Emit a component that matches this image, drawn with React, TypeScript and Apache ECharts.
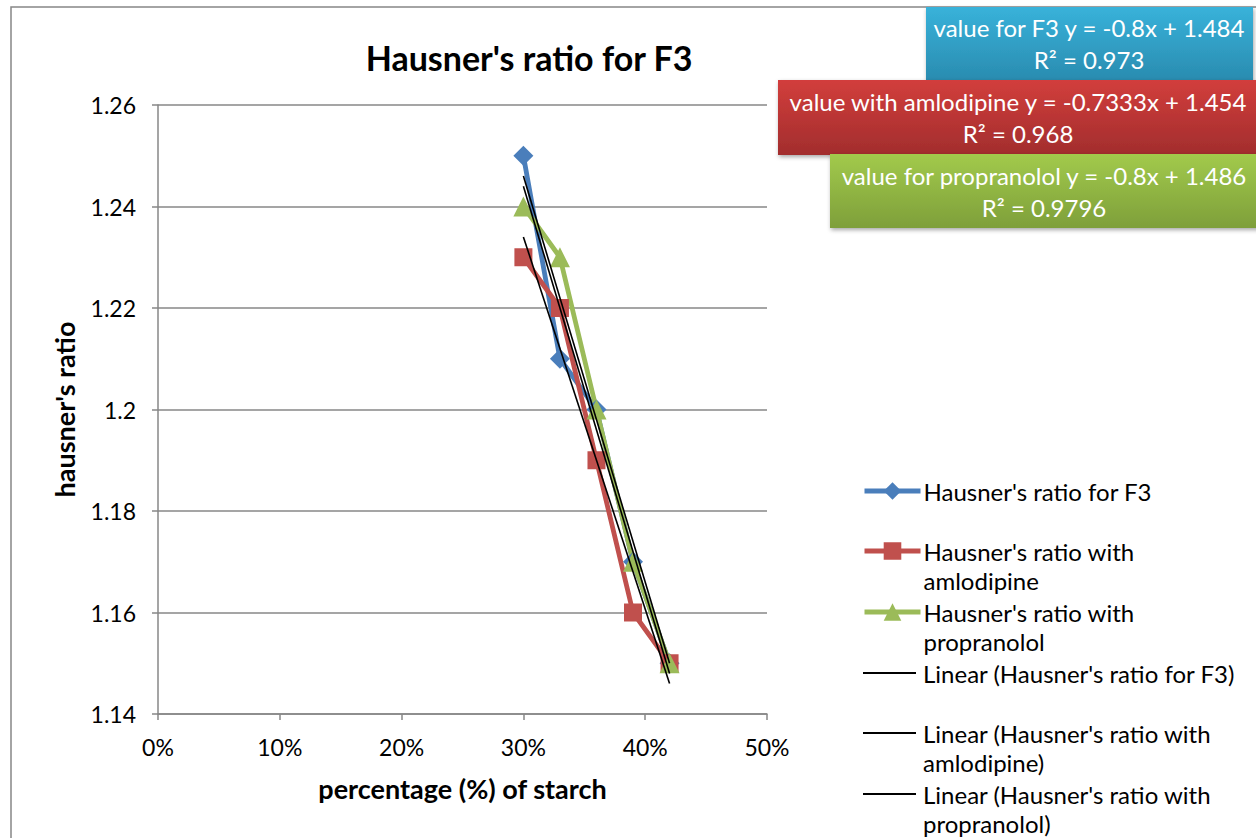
import React, { useEffect, useRef } from "react";
import * as echarts from "echarts";

// ---- data ----
const starchPct = [0.3, 0.33, 0.36, 0.39, 0.42];
const ratioF3 = [1.25, 1.21, 1.2, 1.17, 1.15];
const ratioAmlodipine = [1.23, 1.22, 1.19, 1.16, 1.15];
const ratioPropranolol = [1.24, 1.23, 1.2, 1.17, 1.15];
const seriesNames = [
  "Hausner's ratio for F3",
  "Hausner's ratio with amlodipine",
  "Hausner's ratio with propranolol",
];
const legendLines = [
  ["Hausner's ratio for F3"],
  ["Hausner's ratio with", "amlodipine"],
  ["Hausner's ratio with", "propranolol"],
  ["Linear (Hausner's ratio for F3)"],
  ["Linear (Hausner's ratio with", "amlodipine)"],
  ["Linear (Hausner's ratio with", "propranolol)"],
];
const trendSlopes = [-0.8, -0.7333, -0.8];
const trendIntercepts = [1.484, 1.454, 1.486];
const trendR2 = ["0.973", "0.968", "0.9796"];
const trendLabelPrefix = ["value for F3", "value with amlodipine", "value for propranolol"];
const chartTitle = "Hausner's ratio for F3";
const xAxisTitle = "percentage (%) of starch";
const yAxisTitle = "hausner's ratio";

const FONT = "Lato, 'Open Sans', 'DejaVu Sans', sans-serif";
const COLORS = ["#4A7EBB", "#C0504D", "#9BBB59"];
const SYMBOLS = ["diamond", "rect", "triangle"];
const SYMBOL_SIZES = [20, 18, 20];

export default function App() {
  const ref = useRef<HTMLDivElement>(null);
  useEffect(() => {
    const chart = echarts.init(ref.current!, undefined, { renderer: "svg" });
    const valueSets = [ratioF3, ratioAmlodipine, ratioPropranolol];
    const xMin = Math.min(...starchPct);
    const xMax = Math.max(...starchPct);

    const dataSeries = valueSets.map((vals, i) => ({
      name: seriesNames[i],
      type: "line",
      data: starchPct.map((x, j) => [x, vals[j]]),
      symbol: SYMBOLS[i],
      symbolSize: SYMBOL_SIZES[i],
      itemStyle: { color: COLORS[i] },
      lineStyle: { color: COLORS[i], width: 4.8 },
      z: 2,
    }));
    const trendSeries = trendSlopes.map((m, i) => ({
      name: "Linear (" + seriesNames[i] + ")",
      type: "line",
      data: [
        [xMin, m * xMin + trendIntercepts[i]],
        [xMax, m * xMax + trendIntercepts[i]],
      ],
      symbol: "none",
      itemStyle: { color: "#000" },
      lineStyle: { color: "#000", width: 1.6 },
      z: 3,
    }));

    const allNames = [...seriesNames, ...trendSeries.map((s) => s.name)];
    const firstLineCenters = [491, 551, 612, 673, 733, 794];
    const legends = allNames.map((name, i) => {
      const lines = legendLines[i];
      const twoLine = lines.length > 1;
      const isTrend = i >= 3;
      // for two-line items, a blank leading line keeps the icon level with the first line
      const text = twoLine ? "\n" + lines.join("\n") : lines[0];
      return {
        left: isTrend ? 863 : 862,
        top: firstLineCenters[i] - (twoLine ? 43.5 : 14.5),
        orient: "vertical",
        padding: 0,
        itemWidth: isTrend ? 53 : 56,
        itemHeight: isTrend ? 2 : 22,
        icon: isTrend ? "rect" : undefined,
        lineStyle: isTrend ? undefined : { width: 5 },
        selectedMode: false,
        data: [name],
        formatter: () => text,
        itemGap: 0,
        textStyle: {
          fontSize: 24,
          fontFamily: FONT,
          color: "#000",
          lineHeight: 29,
          padding: isTrend ? [0, 0, 0, 2] : [0, 0, 0, -2],
        },
      };
    });

    const boxes = [
      { x: 926, y: 7, w: 327, h: 73, c1: "#38B2DA", c2: "#2A8CB0", cx: 1089 },
      { x: 778, y: 80, w: 490, h: 75, c1: "#D23E3C", c2: "#A22D2D", cx: 1018 },
      { x: 830, y: 154, w: 440, h: 74, c1: "#A2CA4C", c2: "#7E9F3A", cx: 1044 },
    ];
    const boxGraphics = boxes.map((b, i) => ({
      type: "group",
      children: [
        {
          type: "rect",
          shape: { x: b.x, y: b.y, width: b.w, height: b.h },
          style: {
            fill: new echarts.graphic.LinearGradient(0, 0, 0, 1, [
              { offset: 0, color: b.c1 },
              { offset: 1, color: b.c2 },
            ]),
            shadowBlur: 4,
            shadowOffsetX: 1,
            shadowOffsetY: 2,
            shadowColor: "rgba(0,0,0,0.35)",
          },
        },
        {
          type: "text",
          x: b.cx,
          y: b.y + b.h / 2,
          style: {
            text:
              trendLabelPrefix[i] +
              " y = " +
              trendSlopes[i] +
              "x + " +
              trendIntercepts[i] +
              "\nR² = " +
              trendR2[i],
            fill: "#fff",
            fontSize: 24,
            fontFamily: FONT,
            lineHeight: 32,
            align: "center",
            verticalAlign: "middle",
          },
        },
      ],
    }));

    chart.setOption({
      animation: false,
      backgroundColor: "#fff",
      title: {
        text: chartTitle,
        left: 524,
        top: 35,
        textAlign: "center",
        textStyle: { fontFamily: FONT, fontSize: 34, fontWeight: "bold", color: "#000" },
      },
      legend: legends,
      grid: { left: 158, top: 105, width: 609, height: 609, containLabel: false },
      xAxis: {
        type: "value",
        min: 0,
        max: 0.5,
        interval: 0.1,
        name: xAxisTitle,
        nameLocation: "middle",
        nameGap: 61,
        nameTextStyle: { fontFamily: FONT, fontSize: 27, fontWeight: "bold", color: "#000" },
        axisLine: { show: true, lineStyle: { color: "#878787", width: 1.5 } },
        axisTick: { show: true, length: 6, lineStyle: { color: "#878787", width: 1.5 } },
        axisLabel: {
          margin: 21,
          fontFamily: FONT,
          fontSize: 23,
          color: "#000",
          formatter: (v: number) => Math.round(v * 100) + "%",
        },
        splitLine: { show: false },
      },
      yAxis: {
        type: "value",
        min: 1.14,
        max: 1.26,
        interval: 0.02,
        name: yAxisTitle,
        nameLocation: "middle",
        nameGap: 80,
        nameTextStyle: { fontFamily: FONT, fontSize: 27, fontWeight: "bold", color: "#000" },
        axisLine: { show: true, lineStyle: { color: "#878787", width: 1.5 } },
        axisTick: { show: true, length: 6, lineStyle: { color: "#878787", width: 1.5 } },
        axisLabel: {
          margin: 22,
          fontFamily: FONT,
          fontSize: 23,
          color: "#000",
          formatter: (v: number) => String(parseFloat(v.toFixed(2))),
        },
        splitLine: { show: true, lineStyle: { color: "#878787", width: 1.5 } },
      },
      series: [...dataSeries, ...trendSeries],
      graphic: [
        {
          type: "rect",
          shape: { x: 11, y: 7, width: 1400, height: 1000 },
          style: { fill: "none", stroke: "#878787", lineWidth: 1.5 },
          silent: true,
          z: -10,
        },
        ...boxGraphics,
      ],
    });
    return () => chart.dispose();
  }, []);
  return (
    <div
      ref={ref}
      style={{ position: "fixed", left: 0, top: 0, width: 1256, height: 838 }}
    />
  );
}
